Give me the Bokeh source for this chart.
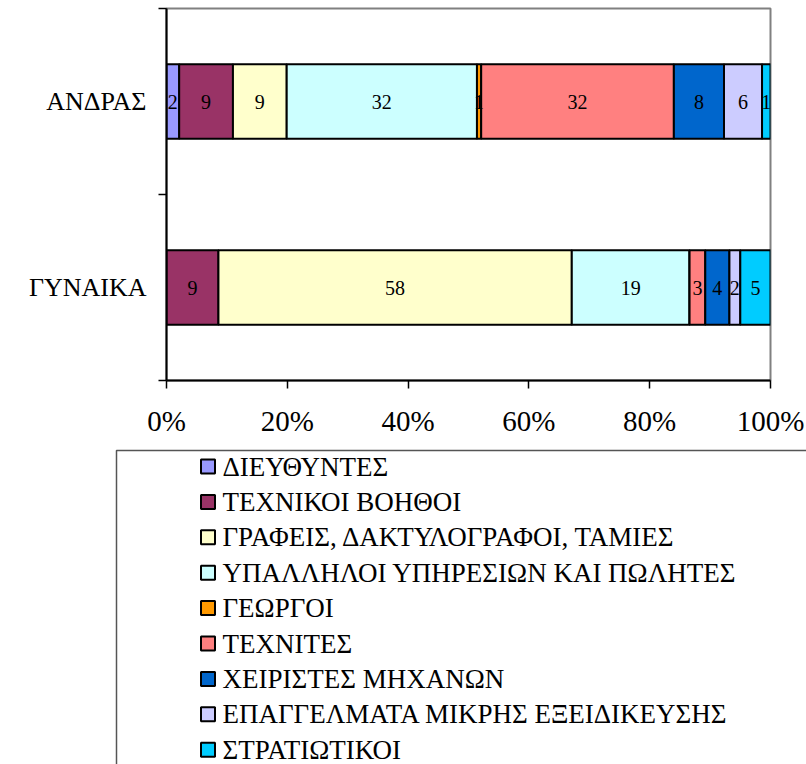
from bokeh.plotting import figure
from bokeh.models import ColumnDataSource, Range1d, FixedTicker, PrintfTickFormatter
from bokeh.core.properties import value
from bokeh.embed import file_html
from bokeh.resources import INLINE

# ---------------- data ----------------
groups = ["ΓΥΝΑΙΚΑ", "ΑΝΔΡΑΣ"]          # bottom to top
categories = [
    "ΔΙΕΥΘΥΝΤΕΣ",
    "ΤΕΧΝΙΚΟΙ ΒΟΗΘΟΙ",
    "ΓΡΑΦΕΙΣ, ΔΑΚΤΥΛΟΓΡΑΦΟΙ, ΤΑΜΙΕΣ",
    "ΥΠΑΛΛΗΛΟΙ ΥΠΗΡΕΣΙΩΝ ΚΑΙ ΠΩΛΗΤΕΣ",
    "ΓΕΩΡΓΟΙ",
    "ΤΕΧΝΙΤΕΣ",
    "ΧΕΙΡΙΣΤΕΣ ΜΗΧΑΝΩΝ",
    "ΕΠΑΓΓΕΛΜΑΤΑ ΜΙΚΡΗΣ ΕΞΕΙΔΙΚΕΥΣΗΣ",
    "ΣΤΡΑΤΙΩΤΙΚΟΙ",
]
colors = ["#9999FF", "#993366", "#FFFFCC", "#CCFFFF", "#FF9900",
          "#FF8080", "#0066CC", "#CCCCFF", "#00CCFF"]
women_values = [0, 8.6, 58.5, 19.5, 0, 2.6, 4.0, 1.8, 5.0]
men_values = [2.1, 8.9, 8.9, 31.5, 0.7, 31.9, 8.3, 6.3, 1.4]
women_labels = ["", "9", "58", "19", "", "3", "4", "2", "5"]
men_labels = ["2", "9", "9", "32", "1", "32", "8", "6", "1"]
x_ticks = [0, 20, 40, 60, 80, 100]

FONT = "Liberation Serif"
W = 806

# ---------------- chart ----------------
H1 = 448
p = figure(width=W, height=H1, output_backend="svg", toolbar_location=None,
           x_range=Range1d(0, 100), y_range=Range1d(0, len(groups)),
           min_border_left=166, min_border_right=36, min_border_top=8,
           min_border_bottom=H1 - 380)

keys = ["c%d" % i for i in range(len(categories))]
data = {"y": [i + 0.5 for i in range(len(groups))]}
all_vals = [women_values, men_values]
for i, k in enumerate(keys):
    data[k] = [all_vals[g][i] for g in range(len(groups))]
src = ColumnDataSource(data)
p.hbar_stack(keys, y="y", height=0.4, color=colors, source=src,
             line_color="black", line_width=2)

# value labels
lx, ly, lt = [], [], []
for g, (vals, labs) in enumerate(zip(all_vals, [women_labels, men_labels])):
    cum = 0.0
    for v, t in zip(vals, labs):
        if v > 0 and t:
            lx.append(cum + v / 2.0)
            ly.append(g + 0.5)
            lt.append(t)
        cum += v
p.text(x=lx, y=ly, text=lt, text_align="center", text_baseline="middle",
       text_font=value(FONT), text_font_size="20px", text_color="black")

p.xgrid.visible = False
p.ygrid.visible = False
p.outline_line_color = "#808080"
p.outline_line_width = 2

xa = p.xaxis[0]
xa.ticker = FixedTicker(ticks=x_ticks, minor_ticks=[])
xa.formatter = PrintfTickFormatter(format="%d%%")
xa.major_tick_out = 8
xa.major_tick_in = 0
xa.major_tick_line_width = 1.5
xa.major_tick_line_color = "black"
xa.axis_line_color = "black"
xa.axis_line_width = 2
xa.major_label_standoff = 16
xa.major_label_text_font = FONT
xa.major_label_text_font_size = "29px"
xa.major_label_text_color = "black"

ya = p.yaxis[0]
ya.ticker = FixedTicker(ticks=[i + 0.5 for i in range(len(groups))],
                        minor_ticks=list(range(len(groups) + 1)))
ya.major_label_overrides = {i + 0.5: g for i, g in enumerate(groups)}
ya.major_tick_out = 0
ya.major_tick_in = 0
ya.minor_tick_out = 8
ya.minor_tick_in = 0
ya.minor_tick_line_color = "black"
ya.minor_tick_line_width = 1.5
ya.axis_line_color = "black"
ya.axis_line_width = 2
ya.major_label_standoff = 12
ya.major_label_text_font = FONT
ya.major_label_text_font_size = "26px"
ya.major_label_text_color = "black"

# ---------------- legend panel (separate figure) ----------------
H2 = 316
lg = figure(width=W, height=H2, output_backend="svg", toolbar_location=None,
            x_range=Range1d(0, W), y_range=Range1d(H2, 0),
            x_axis_location=None, y_axis_location=None, min_border=0)
lg.xgrid.visible = False
lg.ygrid.visible = False
lg.outline_line_color = None

box_left, box_top = 116, 2
lg.quad(left=[box_left], right=[W + 100], top=[box_top], bottom=[H2 + 100],
        fill_color=None, line_color="#555555", line_width=1.5)

row0, step = 18, 35.4
ys = [row0 + i * step for i in range(len(categories))]
lg.scatter(x=[207.5] * len(categories), y=ys, marker="square", size=14,
           fill_color=colors, line_color="black", line_width=2)
lg.text(x=[222] * len(categories), y=ys, text=categories, text_align="left",
        text_baseline="middle", text_font=value(FONT), text_font_size="27px",
        text_color="black")

open("out.html", "w").write(file_html([p, lg], INLINE))
